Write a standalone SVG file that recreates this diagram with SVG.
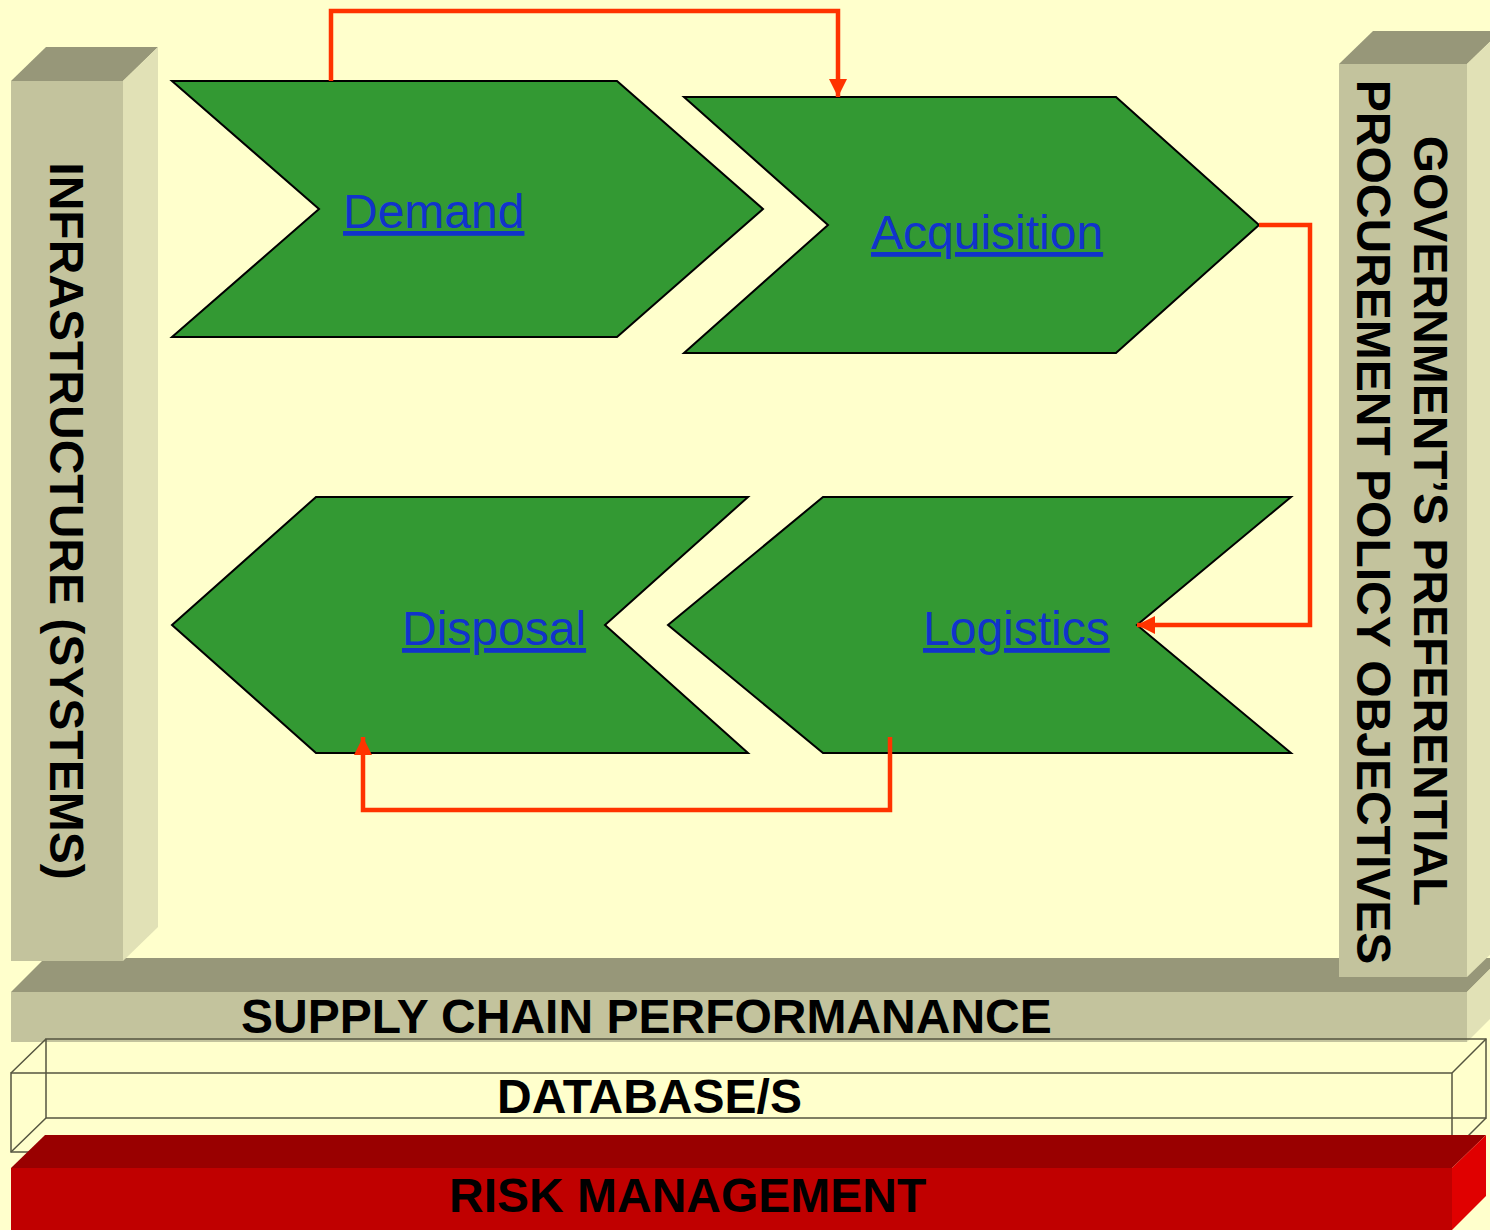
<svg xmlns="http://www.w3.org/2000/svg" width="1490" height="1230" viewBox="0 0 1490 1230">
<defs>
<style>
.pf{fill:#C3C39D}.pt{fill:#979779}.ps{fill:#E1E1B6}
.chev{fill:#339933;stroke:#000;stroke-width:2}
.lnk{font-family:"Liberation Sans",Arial,sans-serif;font-size:48px;fill:#1133CC;text-decoration:underline}
.lbl{font-family:"Liberation Sans",Arial,sans-serif;font-size:48px;font-weight:bold;fill:#000}
.wire{fill:none;stroke:#555540;stroke-width:1.5}
.con{fill:none;stroke:#FF3300;stroke-width:4.5}
</style>
<marker id="ah" viewBox="0 0 10 10" refX="10" refY="5" markerWidth="18" markerHeight="18" markerUnits="userSpaceOnUse" orient="auto">
<path d="M0,0 L10,5 L0,10 z" fill="#FF3300"/>
</marker>
</defs>
<rect width="1490" height="1230" fill="#FFFFCC"/>

<g id="supply-chain">
<polygon class="pt" points="11,992 45,958 1501,958 1467,992"/>
<rect class="pf" x="11" y="992" width="1456" height="50"/>
<polygon class="ps" points="1467,992 1501,958 1501,1008 1467,1042"/>
<text class="lbl" x="241" y="1033">SUPPLY CHAIN PERFORMANANCE</text>
</g>

<g id="infrastructure">
<polygon class="pt" points="11,81 46,47 158,47 123,81"/>
<rect class="pf" x="11" y="81" width="112" height="880"/>
<polygon class="ps" points="123,81 158,47 158,927 123,961"/>
<text class="lbl" transform="translate(50,521) rotate(90)" text-anchor="middle">INFRASTRUCTURE (SYSTEMS)</text>
</g>

<g id="government">
<polygon class="pt" points="1339,64 1373,31 1501,31 1467,64"/>
<rect class="pf" x="1339" y="64" width="128" height="913"/>
<polygon class="ps" points="1467,64 1501,31 1501,944 1467,977"/>
<text class="lbl" transform="translate(1414,521) rotate(90)" text-anchor="middle">GOVERNMENT’S PREFERENTIAL</text>
<text class="lbl" transform="translate(1357,522) rotate(90)" text-anchor="middle">PROCUREMENT POLICY OBJECTIVES</text>
</g>

<g id="database">
<rect x="11" y="1073" width="1441" height="79" fill="#FFFFCC"/>
<rect class="wire" x="46" y="1039" width="1440" height="79"/>
<rect class="wire" x="11" y="1073" width="1441" height="79"/>
<path class="wire" d="M11,1073 L46,1039 M1452,1073 L1486,1039 M11,1152 L46,1118 M1452,1152 L1486,1118"/>
<text class="lbl" x="497" y="1113">DATABASE/S</text>
</g>

<g id="risk">
<polygon fill="#990000" points="11,1168 45,1135 1486,1135 1452,1168"/>
<rect fill="#C00000" x="11" y="1168" width="1441" height="62"/>
<polygon fill="#E00000" points="1452,1168 1486,1135 1486,1196 1452,1230"/>
<text class="lbl" x="449" y="1212">RISK MANAGEMENT</text>
</g>

<g id="demand">
<polygon class="chev" points="172,81 617,81 763,209 617,337 172,337 319,209"/>
<text class="lnk" x="343" y="228">Demand</text>
</g>
<g id="acquisition">
<polygon class="chev" points="684,97 1116,97 1259,225 1116,353 684,353 828,225"/>
<text class="lnk" x="871" y="249">Acquisition</text>
</g>
<g id="disposal">
<polygon class="chev" points="316,497 748,497 605,625 748,753 316,753 172,625"/>
<text class="lnk" x="402" y="645">Disposal</text>
</g>
<g id="logistics">
<polygon class="chev" points="823,497 1291,497 1137,625 1291,753 823,753 668,625"/>
<text class="lnk" x="923" y="645">Logistics</text>
</g>

<g id="connectors">
<polyline class="con" marker-end="url(#ah)" points="331,81 331,11 838,11 838,97"/>
<polyline class="con" marker-end="url(#ah)" points="1259,225 1310,225 1310,625 1137,625"/>
<polyline class="con" marker-end="url(#ah)" points="890,737 890,810 363,810 363,737"/>
</g>
</svg>
